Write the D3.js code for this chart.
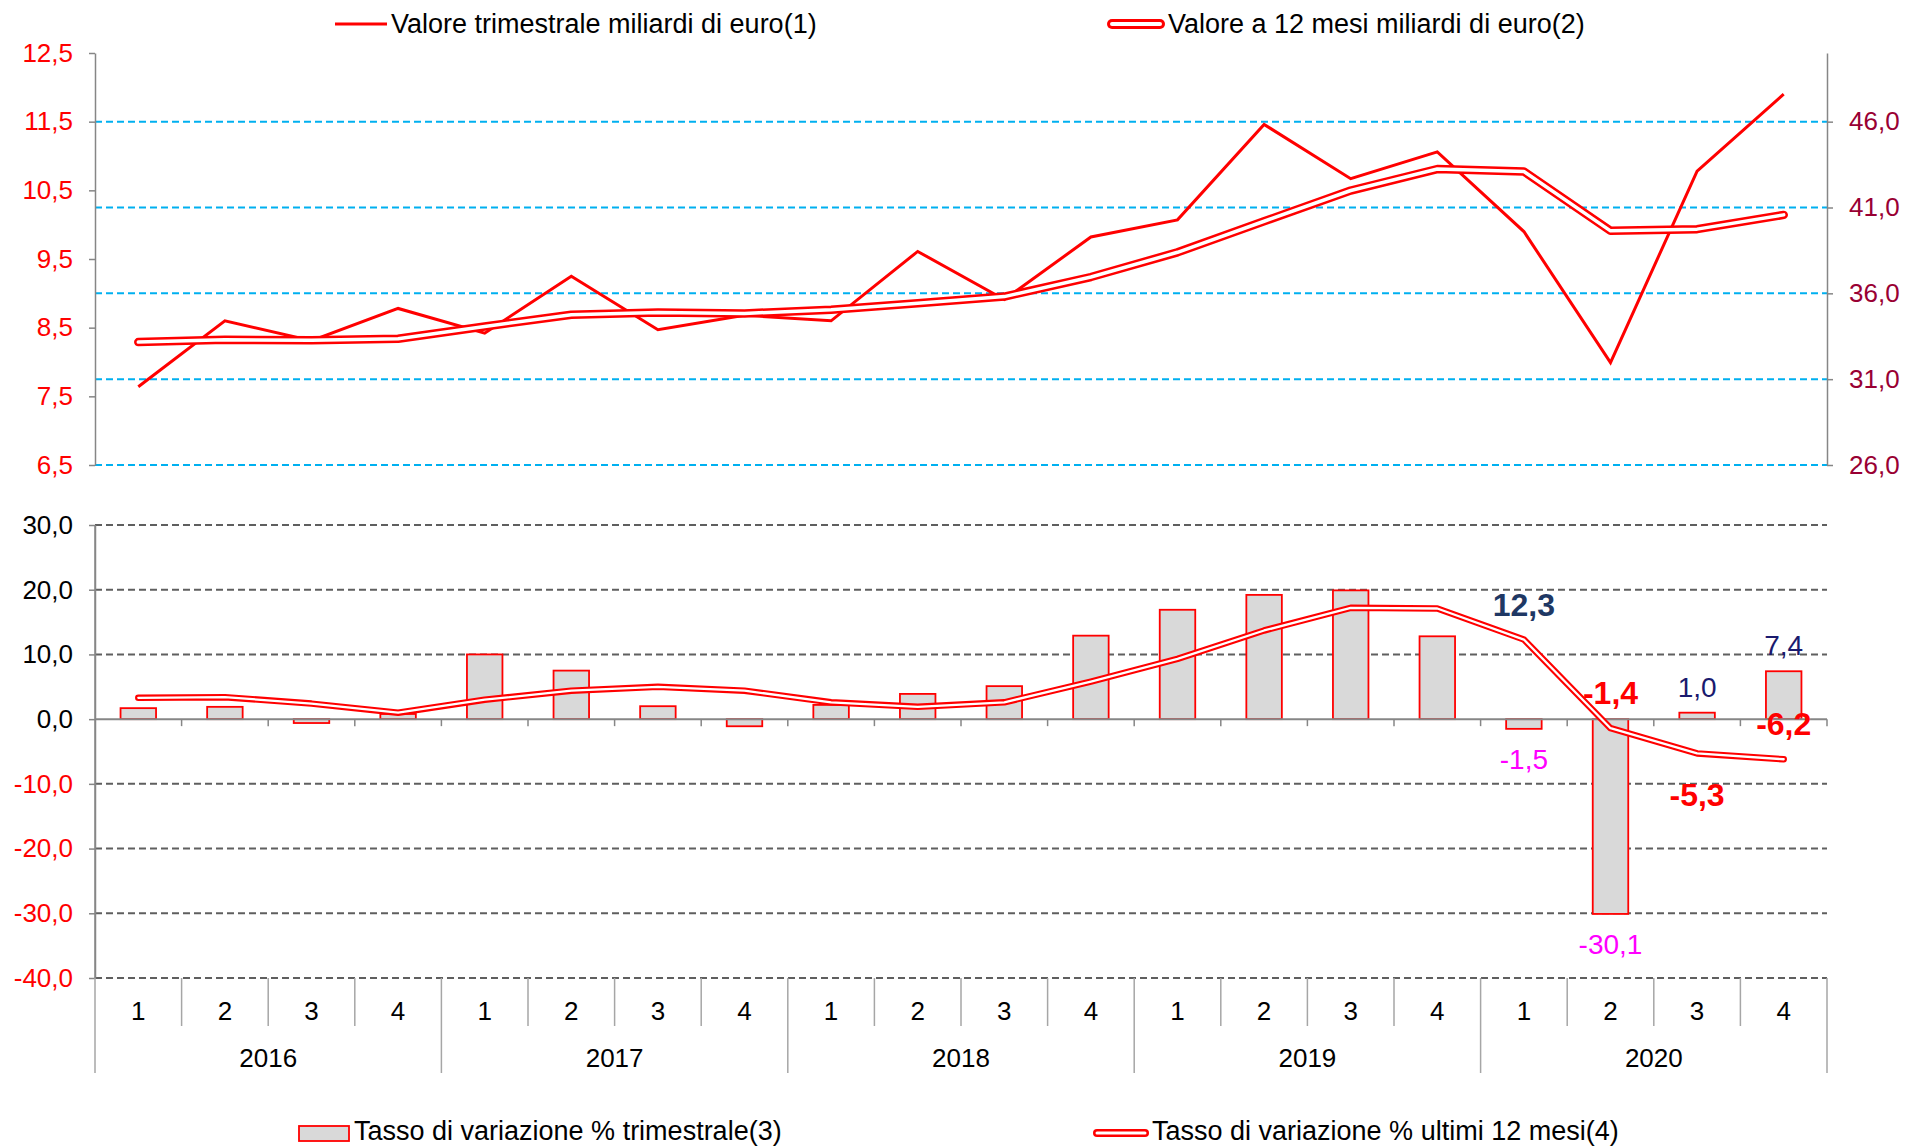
<!DOCTYPE html>
<html>
<head>
<meta charset="utf-8">
<script src="https://cdn.jsdelivr.net/npm/d3@7"></script>
<style>
    body { margin: 0; background: #fff; }
    #chart { width: 1905px; height: 1147px; }
    svg text { font-family: "Liberation Sans", Arial, sans-serif; }
</style>
</head>
<body>
<div id="chart"></div>
<script>
///// DATI /////
let anni = ['2016', '2017', '2018', '2019', '2020'];
let trimestri = ['1', '2', '3', '4'];

// Valore trimestrale, miliardi di euro (asse sinistro)
let valoreTrimestrale = [7.64, 8.60, 8.31, 8.78, 8.42, 9.25, 8.47, 8.68, 8.60, 9.61, 8.91, 9.82, 10.07, 11.46, 10.67, 11.06, 9.90, 7.99, 10.78, 11.90];
// Valore a 12 mesi, miliardi di euro (asse destro)
let valore12Mesi = [33.16, 33.30, 33.26, 33.35, 34.07, 34.75, 34.89, 34.83, 35.05, 35.42, 35.81, 36.95, 38.39, 40.20, 41.99, 43.24, 43.10, 39.64, 39.74, 40.57];
// Tasso di variazione % trimestrale (barre)
let tassoTrimestrale = [1.7, 1.9, -0.6, 0.8, 10.0, 7.5, 2.0, -1.1, 2.2, 3.9, 5.1, 12.9, 16.9, 19.2, 19.9, 12.8, -1.5, -30.1, 1.0, 7.4];
// Tasso di variazione % ultimi 12 mesi
let tasso12Mesi = [3.3, 3.4, 2.4, 1.0, 3.0, 4.4, 5.0, 4.4, 2.6, 1.9, 2.6, 5.8, 9.3, 13.7, 17.2, 17.1, 12.3, -1.4, -5.3, -6.2];

let tickSinistra = [6.5, 7.5, 8.5, 9.5, 10.5, 11.5, 12.5];
let tickDestra = [26, 31, 36, 41, 46];
let tickTassi = [-40, -30, -20, -10, 0, 10, 20, 30];

// trimestri con etichetta del valore
let conEtichetta = [16, 17, 18, 19];

///// FORMATO NUMERI /////
let locale = d3.formatLocale({decimal: ',', thousands: '.', grouping: [3], currency: ['', '€'], minus: '-'});
let fmt1 = locale.format('.1f');

///// GRAFICO /////
let chartBlock = d3.select('#chart');
let svg = chartBlock.append('svg').attr('width', 1905).attr('height', 1147);

let chiavi = [];
anni.forEach(function(a) { trimestri.forEach(function(t) { chiavi.push(a + '-' + t); }); });

let x_c = d3.scaleBand().domain(chiavi).range([95, 1827]);
let cx = function(i) { return x_c(chiavi[i]) + x_c.bandwidth() / 2; };

let ySx = d3.scaleLinear().domain([6.5, 12.5]).range([465, 53]);
let yDx = d3.scaleLinear().domain([26, 50]).range([465, 53]);
let yB = d3.scaleLinear().domain([-40, 30]).range([978, 525]);

let grigioAsse = '#868686';

function stileAsse(g, colore) {
    g.select('.domain').attr('stroke', grigioAsse).attr('stroke-width', 1.5);
    g.selectAll('.tick line').attr('stroke', grigioAsse).attr('stroke-width', 1.5);
    g.selectAll('.tick text').attr('font-size', 26).attr('fill', colore);
}

//// Pannello superiore ////
// griglia azzurra (tick asse destro)
svg.append('g').selectAll('line')
    .data(tickDestra).enter().append('line')
    .attr('x1', 95).attr('x2', 1827)
    .attr('y1', function(d) { return yDx(d); })
    .attr('y2', function(d) { return yDx(d); })
    .attr('stroke', '#00B0F0').attr('stroke-width', 2).attr('stroke-dasharray', '7,4');

svg.append('g')
    .attr('transform', 'translate(95,0)')
    .call(d3.axisLeft(ySx).tickValues(tickSinistra).tickFormat(fmt1).tickSize(6).tickSizeOuter(0).tickPadding(16))
    .call(function(g) { stileAsse(g, '#FF0000'); });

svg.append('g')
    .attr('transform', 'translate(1827,0)')
    .call(d3.axisRight(yDx).tickValues(tickDestra).tickFormat(fmt1).tickSize(6).tickSizeOuter(0).tickPadding(16))
    .call(function(g) { stileAsse(g, '#990033'); });

let lineaTrim = d3.line()
    .x(function(d, i) { return cx(i); })
    .y(function(d) { return ySx(d); });

let linea12 = d3.line()
    .x(function(d, i) { return cx(i); })
    .y(function(d) { return yDx(d); });

svg.append('path')
    .attr('d', lineaTrim(valoreTrimestrale))
    .attr('fill', 'none').attr('stroke', '#FF0000').attr('stroke-width', 3);

// linea doppia
svg.append('path')
    .attr('d', linea12(valore12Mesi))
    .attr('fill', 'none').attr('stroke', '#FF0000').attr('stroke-width', 8.5)
    .attr('stroke-linecap', 'round').attr('stroke-linejoin', 'round');
svg.append('path')
    .attr('d', linea12(valore12Mesi))
    .attr('fill', 'none').attr('stroke', '#fff').attr('stroke-width', 3.5)
    .attr('stroke-linecap', 'round').attr('stroke-linejoin', 'round');

//// Pannello inferiore ////
svg.append('g').selectAll('line')
    .data(tickTassi.filter(function(d) { return d != 0; })).enter().append('line')
    .attr('x1', 95).attr('x2', 1827)
    .attr('y1', function(d) { return yB(d); })
    .attr('y2', function(d) { return yB(d); })
    .attr('stroke', '#5F5F5F').attr('stroke-width', 2).attr('stroke-dasharray', '7,4');

svg.append('g')
    .attr('transform', 'translate(95,0)')
    .call(d3.axisLeft(yB).tickValues(tickTassi).tickFormat(fmt1).tickSize(6).tickSizeOuter(0).tickPadding(16))
    .call(function(g) {
        stileAsse(g, '#000');
        g.selectAll('.tick text').attr('fill', function(d) { return d < 0 ? '#FF0000' : '#000'; });
    });

// barre
let largBarra = x_c.bandwidth() * 0.41;
svg.append('g').selectAll('rect')
    .data(tassoTrimestrale).enter().append('rect')
    .attr('x', function(d, i) { return cx(i) - largBarra / 2; })
    .attr('y', function(d) { return Math.min(yB(d), yB(0)); })
    .attr('width', largBarra)
    .attr('height', function(d) { return Math.abs(yB(d) - yB(0)); })
    .attr('fill', '#D9D9D9').attr('stroke', '#FF0000').attr('stroke-width', 1.8);

// asse dello zero con tacche
let confini = d3.range(chiavi.length + 1).map(function(i) { return 95 + i * x_c.step(); });
let zero = svg.append('g');
zero.append('line')
    .attr('x1', 95).attr('x2', 1827).attr('y1', yB(0)).attr('y2', yB(0))
    .attr('stroke', grigioAsse).attr('stroke-width', 2);
zero.selectAll('.tacca')
    .data(confini.slice(1)).enter().append('line')
    .attr('x1', function(d) { return d; }).attr('x2', function(d) { return d; })
    .attr('y1', yB(0)).attr('y2', yB(0) + 7)
    .attr('stroke', grigioAsse).attr('stroke-width', 1.5);

let lineaTasso = d3.line()
    .x(function(d, i) { return cx(i); })
    .y(function(d) { return yB(d); });

svg.append('path')
    .attr('d', lineaTasso(tasso12Mesi))
    .attr('fill', 'none').attr('stroke', '#FF0000').attr('stroke-width', 6.5)
    .attr('stroke-linecap', 'round').attr('stroke-linejoin', 'round');
svg.append('path')
    .attr('d', lineaTasso(tasso12Mesi))
    .attr('fill', 'none').attr('stroke', '#fff').attr('stroke-width', 2.3)
    .attr('stroke-linecap', 'round').attr('stroke-linejoin', 'round');

// etichette dei valori
svg.append('g').selectAll('text')
    .data(conEtichetta).enter().append('text')
    .attr('x', function(i) { return cx(i); })
    .attr('y', function(i) { return yB(tassoTrimestrale[i]) + (tassoTrimestrale[i] < 0 ? 30 : -26) + 10; })
    .attr('text-anchor', 'middle').attr('font-size', 28)
    .attr('fill', function(i) { return tassoTrimestrale[i] < 0 ? '#FF00FF' : '#1A1A6E'; })
    .text(function(i) { return fmt1(tassoTrimestrale[i]); });

svg.append('g').selectAll('text')
    .data(conEtichetta).enter().append('text')
    .attr('x', function(i) { return cx(i); })
    .attr('y', function(i) {
        let sotto = (i == 18);
        return yB(tasso12Mesi[i]) + (sotto ? 42 : -35) + 11;
    })
    .attr('text-anchor', 'middle').attr('font-size', 32).attr('font-weight', 'bold')
    .attr('fill', function(i) { return tasso12Mesi[i] < 0 ? '#FF0000' : '#1F3864'; })
    .text(function(i) { return fmt1(tasso12Mesi[i]); });

//// Asse categorie ////
let categorie = svg.append('g');
categorie.append('line')
    .attr('x1', 95).attr('x2', 95).attr('y1', 525).attr('y2', 978)
    .attr('stroke', grigioAsse).attr('stroke-width', 1.5);
categorie.selectAll('.sep')
    .data(confini).enter().append('line')
    .attr('x1', function(d) { return d; }).attr('x2', function(d) { return d; })
    .attr('y1', 978)
    .attr('y2', function(d, i) { return i % 4 == 0 ? 1073 : 1026; })
    .attr('stroke', '#A6A6A6').attr('stroke-width', 1.5);
categorie.selectAll('.trim')
    .data(chiavi).enter().append('text')
    .attr('x', function(d, i) { return cx(i); })
    .attr('y', 1020)
    .attr('text-anchor', 'middle').attr('font-size', 26).attr('fill', '#000')
    .text(function(d) { return d.split('-')[1]; });
categorie.selectAll('.anno')
    .data(anni).enter().append('text')
    .attr('x', function(d, i) { return (confini[i * 4] + confini[i * 4 + 4]) / 2; })
    .attr('y', 1067)
    .attr('text-anchor', 'middle').attr('font-size', 26).attr('fill', '#000')
    .text(function(d) { return d; });

///// LEGENDE /////
let leg = svg.append('g').attr('font-size', 27);
leg.append('line').attr('x1', 335).attr('x2', 387).attr('y1', 24).attr('y2', 24)
    .attr('stroke', '#FF0000').attr('stroke-width', 3);
leg.append('text').attr('x', 391).attr('y', 33).text('Valore trimestrale miliardi di euro(1)');

leg.append('line').attr('x1', 1112).attr('x2', 1160).attr('y1', 24).attr('y2', 24)
    .attr('stroke', '#FF0000').attr('stroke-width', 10).attr('stroke-linecap', 'round');
leg.append('line').attr('x1', 1112).attr('x2', 1160).attr('y1', 24).attr('y2', 24)
    .attr('stroke', '#fff').attr('stroke-width', 4).attr('stroke-linecap', 'round');
leg.append('text').attr('x', 1168).attr('y', 33).text('Valore a 12 mesi miliardi di euro(2)');

leg.append('rect').attr('x', 299).attr('y', 1126).attr('width', 50).attr('height', 15)
    .attr('fill', '#D9D9D9').attr('stroke', '#FF0000').attr('stroke-width', 1.8);
leg.append('text').attr('x', 354).attr('y', 1140).text('Tasso di variazione % trimestrale(3)');

leg.append('line').attr('x1', 1097).attr('x2', 1145).attr('y1', 1133).attr('y2', 1133)
    .attr('stroke', '#FF0000').attr('stroke-width', 8).attr('stroke-linecap', 'round');
leg.append('line').attr('x1', 1097).attr('x2', 1145).attr('y1', 1133).attr('y2', 1133)
    .attr('stroke', '#fff').attr('stroke-width', 3).attr('stroke-linecap', 'round');
leg.append('text').attr('x', 1152).attr('y', 1140).text('Tasso di variazione % ultimi 12 mesi(4)');
</script>
</body>
</html>
